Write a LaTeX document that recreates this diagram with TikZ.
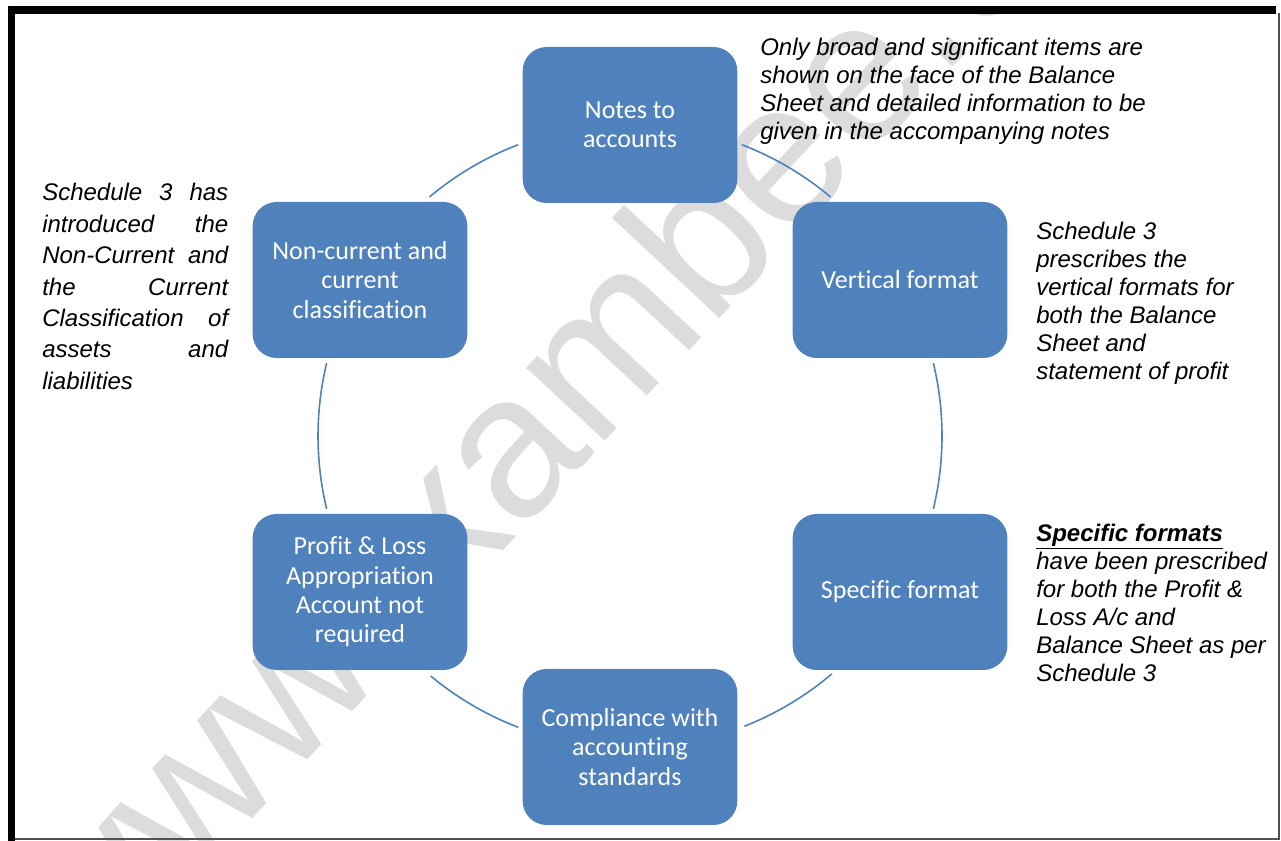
\documentclass[tikz,border=0pt]{standalone}
\usepackage{fontspec}
\setmainfont{Liberation Sans}
\newfontfamily\boxfont[Ligatures=NoCommon]{Carlito}
\definecolor{boxblue}{HTML}{4F81BD}
\definecolor{markgray}{HTML}{DCDCDC}
\definecolor{framegray}{HTML}{505050}

\tikzset{cyclebox/.style = {rectangle, rounded corners=18pt, fill=boxblue, text=white,
                            minimum width=161pt, minimum height=117pt, align=center,
                            font=\boxfont\fontsize{19.5}{22}\selectfont},
         note/.style = {inner sep=0pt, anchor=north west, align=left,
                        font=\itshape\fontsize{18}{21}\selectfont},
         ring/.style = {boxblue, line width=1.2pt}
        }

\begin{document}
\begin{tikzpicture}[x=0.75pt,y=0.75pt]
\useasboundingbox (0,0) rectangle (1281,841);
\begin{scope}
\clip (15,0) rectangle (1278,827);
\node[markgray, rotate=47, anchor=west, inner sep=0pt, font=\fontsize{152}{152}\selectfont] (mark) at (35,-105) {www.ixambee.com};
\end{scope}
\draw[line width=6pt] (8,831) -- (1276,831);
\draw[line width=5.25pt] (11.5,835) -- (11.5,0);
\draw[framegray, line width=1.5pt] (1278.5,828) -- (1278.5,1.5) -- (15,1.5);
\coordinate (c) at (630,405);
\draw[ring] (c) ++(50:312) arc (50:69:312);
\draw[ring] (c) ++(-13.5:312) arc (-13.5:13.5:312);
\draw[ring] (c) ++(-68.5:312) arc (-68.5:-49.7:312);
\draw[ring] (c) ++(230.3:312) arc (230.3:249:312);
\draw[ring] (c) ++(166.5:312) arc (166.5:193.5:312);
\draw[ring] (c) ++(111:312) arc (111:130:312);
\node[cyclebox] (notes) at (630,716) {Notes to\\accounts};
\node[cyclebox] (vert) at (900,561) {Vertical format};
\node[cyclebox] (spec) at (900,249) {Specific format};
\node[cyclebox] (comply) at (630,94) {Compliance with\\accounting\\standards};
\node[cyclebox] (pl) at (360,249) {Profit \& Loss\\Appropriation\\Account not\\required};
\node[cyclebox] (nc) at (360,561) {Non-current and\\current\\classification};
\node[note] (notesnote) at (760,803) {Only broad and significant items are\\shown on the face of the Balance\\Sheet and detailed information to be\\given in the accompanying notes};
\node[note, text width=139.5pt, align=justify, font=\itshape\fontsize{18}{23.6}\selectfont] (ncnote) at (42,658)
  {Schedule 3 has\linebreak introduced the\linebreak Non-Current and\linebreak the Current\linebreak Classification of\linebreak assets and\linebreak liabilities};
\node[note] (vertnote) at (1036,619) {Schedule 3\\prescribes the\\vertical formats for\\both the Balance\\Sheet and\\statement of profit};
\node[note] (specnote) at (1036,317) {\textbf{\underline{Specific formats}}\\have been prescribed\\for both the Profit \&\\Loss A/c and\\Balance Sheet as per\\Schedule 3};
\end{tikzpicture}
\end{document}
